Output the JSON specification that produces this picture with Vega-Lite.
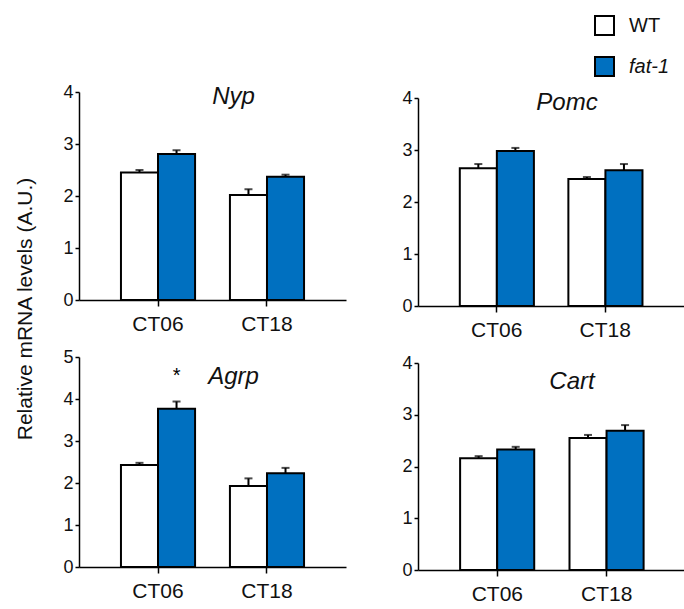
{
  "$schema": "https://vega.github.io/schema/vega-lite/v6.json",
  "background": "white",
  "padding": {"left": 14, "top": 15, "right": 0, "bottom": 5},
  "config": {
    "font": "Liberation Sans",
    "view": {"stroke": null},
    "axis": {"domainColor": "black", "domainWidth": 1.5, "tickColor": "black", "tickWidth": 1.5, "labelColor": "#111", "grid": false, "labelFont": "Liberation Sans", "titleFont": "Liberation Sans"},
    "title": {"font": "Liberation Sans", "fontSize": 24, "fontStyle": "italic", "fontWeight": "normal", "color": "#111", "frame": "group", "anchor": "middle", "baseline": "alphabetic"},
    "legend": {"symbolType": "square", "symbolSize": 361, "symbolStrokeColor": "black", "symbolStrokeWidth": 2, "symbolOpacity": 1, "labelFontSize": 20, "labelFont": "Liberation Sans", "labelColor": "#111", "rowPadding": 14, "labelOffset": 14, "padding": 0}
  },
  "datasets": {
    "expr": [
      {"gene": "Nyp", "time": "CT06", "genotype": "WT", "value": 2.45, "upper": 2.50},
      {"gene": "Nyp", "time": "CT06", "genotype": "fat-1", "value": 2.81, "upper": 2.88},
      {"gene": "Nyp", "time": "CT18", "genotype": "WT", "value": 2.02, "upper": 2.13},
      {"gene": "Nyp", "time": "CT18", "genotype": "fat-1", "value": 2.37, "upper": 2.41},
      {"gene": "Pomc", "time": "CT06", "genotype": "WT", "value": 2.65, "upper": 2.73},
      {"gene": "Pomc", "time": "CT06", "genotype": "fat-1", "value": 2.98, "upper": 3.04},
      {"gene": "Pomc", "time": "CT18", "genotype": "WT", "value": 2.44, "upper": 2.48},
      {"gene": "Pomc", "time": "CT18", "genotype": "fat-1", "value": 2.61, "upper": 2.73},
      {"gene": "Agrp", "time": "CT06", "genotype": "WT", "value": 2.43, "upper": 2.48},
      {"gene": "Agrp", "time": "CT06", "genotype": "fat-1", "value": 3.77, "upper": 3.94},
      {"gene": "Agrp", "time": "CT18", "genotype": "WT", "value": 1.93, "upper": 2.11},
      {"gene": "Agrp", "time": "CT18", "genotype": "fat-1", "value": 2.23, "upper": 2.36},
      {"gene": "Cart", "time": "CT06", "genotype": "WT", "value": 2.16, "upper": 2.20},
      {"gene": "Cart", "time": "CT06", "genotype": "fat-1", "value": 2.33, "upper": 2.38},
      {"gene": "Cart", "time": "CT18", "genotype": "WT", "value": 2.55, "upper": 2.61},
      {"gene": "Cart", "time": "CT18", "genotype": "fat-1", "value": 2.69, "upper": 2.80}
    ],
    "ann": [
      {"gene": "Agrp", "time": "CT06", "genotype": "fat-1", "y": 4.55, "label": "*"}
    ]
  },
  "spacing": 55,
  "hconcat": [
    {
      "spacing": 14,
      "title": {"text": "Relative mRNA  levels (A.U.)", "orient": "left", "anchor": "middle", "frame": "bounds", "fontSize": 21, "fontStyle": "normal", "baseline": "bottom", "offset": 6, "dx": 33},
      "vconcat": [
        {
          "width": 267, "height": 208,
          "title": {"text": "Nyp", "dx": 21, "offset": -26},
          "data": {"name": "expr"},
          "transform": [{"filter": "datum.gene === 'Nyp'"}],
          "encoding": {
            "x": {"field": "time", "type": "nominal", "title": null, "scale": {"paddingInner": 0.32, "paddingOuter": 0.385}, "axis": {"labelFontSize": 21, "labelAngle": 0, "tickSize": 6, "labelPadding": 7}},
            "xOffset": {"field": "genotype", "type": "nominal", "sort": ["WT", "fat-1"], "scale": {"paddingInner": 0, "paddingOuter": 0}}
          },
          "layer": [
            {"mark": {"type": "bar", "stroke": "black", "strokeWidth": 2},
             "encoding": {
               "y": {"field": "value", "type": "quantitative", "scale": {"domain": [0, 4]}, "axis": {"values": [0, 1, 2, 3, 4], "format": "d", "title": null, "labelFontSize": 18, "tickSize": 4, "labelPadding": 2}},
               "color": {"field": "genotype", "type": "nominal", "scale": {"domain": ["WT", "fat-1"], "range": ["white", "#0070C0"]}, "legend": {"title": null, "orient": "none", "legendX": 515, "legendY": -77, "encode": {"labels": {"update": {"fontStyle": {"signal": "datum.label === 'fat-1' ? 'italic' : 'normal'"}}}}}}
             }},
            {"mark": {"type": "rule", "strokeWidth": 2, "color": "black"},
             "encoding": {"y": {"field": "value", "type": "quantitative"}, "y2": {"field": "upper"}}},
            {"mark": {"type": "tick", "thickness": 2, "size": 8, "color": "black"},
             "encoding": {"y": {"field": "upper", "type": "quantitative"}}}
          ]
        },
        {
          "width": 267, "height": 210,
          "title": {"text": "Agrp", "dx": 21, "offset": -41},
          "data": {"name": "expr"},
          "transform": [{"filter": "datum.gene === 'Agrp'"}],
          "encoding": {
            "x": {"field": "time", "type": "nominal", "title": null, "scale": {"paddingInner": 0.32, "paddingOuter": 0.385}, "axis": {"labelFontSize": 21, "labelAngle": 0, "tickSize": 6, "labelPadding": 7}},
            "xOffset": {"field": "genotype", "type": "nominal", "sort": ["WT", "fat-1"], "scale": {"paddingInner": 0, "paddingOuter": 0}}
          },
          "layer": [
            {"mark": {"type": "bar", "stroke": "black", "strokeWidth": 2},
             "encoding": {
               "y": {"field": "value", "type": "quantitative", "scale": {"domain": [0, 5]}, "axis": {"values": [0, 1, 2, 3, 4, 5], "format": "d", "title": null, "labelFontSize": 18, "tickSize": 4, "labelPadding": 2}},
               "color": {"field": "genotype", "type": "nominal", "scale": {"domain": ["WT", "fat-1"], "range": ["white", "#0070C0"]}, "legend": {"title": null, "orient": "none", "legendX": 515, "legendY": -77, "encode": {"labels": {"update": {"fontStyle": {"signal": "datum.label === 'fat-1' ? 'italic' : 'normal'"}}}}}}
             }},
            {"mark": {"type": "rule", "strokeWidth": 2, "color": "black"},
             "encoding": {"y": {"field": "value", "type": "quantitative"}, "y2": {"field": "upper"}}},
            {"mark": {"type": "tick", "thickness": 2, "size": 8, "color": "black"},
             "encoding": {"y": {"field": "upper", "type": "quantitative"}}},
            {"data": {"name": "ann"},
             "mark": {"type": "text", "fontSize": 20, "color": "black", "baseline": "middle"},
             "encoding": {"y": {"field": "y", "type": "quantitative"}, "text": {"field": "label"}}}
          ]
        }
      ]
    },
    {
      "spacing": 14,
      "vconcat": [
        {
          "width": 266, "height": 214,
          "title": {"text": "Pomc", "dx": 16, "offset": -26},
          "data": {"name": "expr"},
          "transform": [{"filter": "datum.gene === 'Pomc'"}],
          "encoding": {
            "x": {"field": "time", "type": "nominal", "title": null, "scale": {"paddingInner": 0.32, "paddingOuter": 0.385}, "axis": {"labelFontSize": 21, "labelAngle": 0, "tickSize": 6, "labelPadding": 7}},
            "xOffset": {"field": "genotype", "type": "nominal", "sort": ["WT", "fat-1"], "scale": {"paddingInner": 0, "paddingOuter": 0}}
          },
          "layer": [
            {"mark": {"type": "bar", "stroke": "black", "strokeWidth": 2},
             "encoding": {
               "y": {"field": "value", "type": "quantitative", "scale": {"domain": [0, 4], "range": [214, 6]}, "axis": {"values": [0, 1, 2, 3, 4], "format": "d", "title": null, "labelFontSize": 18, "tickSize": 4, "labelPadding": 2}},
               "color": {"field": "genotype", "type": "nominal", "scale": {"domain": ["WT", "fat-1"], "range": ["white", "#0070C0"]}, "legend": {"title": null, "orient": "none", "legendX": 515, "legendY": -77, "encode": {"labels": {"update": {"fontStyle": {"signal": "datum.label === 'fat-1' ? 'italic' : 'normal'"}}}}}}
             }},
            {"mark": {"type": "rule", "strokeWidth": 2, "color": "black"},
             "encoding": {"y": {"field": "value", "type": "quantitative"}, "y2": {"field": "upper"}}},
            {"mark": {"type": "tick", "thickness": 2, "size": 8, "color": "black"},
             "encoding": {"y": {"field": "upper", "type": "quantitative"}}}
          ]
        },
        {
          "width": 268, "height": 207,
          "title": {"text": "Cart", "dx": 20, "offset": -40},
          "data": {"name": "expr"},
          "transform": [{"filter": "datum.gene === 'Cart'"}],
          "encoding": {
            "x": {"field": "time", "type": "nominal", "title": null, "scale": {"paddingInner": 0.32, "paddingOuter": 0.385}, "axis": {"labelFontSize": 21, "labelAngle": 0, "tickSize": 6, "labelPadding": 7}},
            "xOffset": {"field": "genotype", "type": "nominal", "sort": ["WT", "fat-1"], "scale": {"paddingInner": 0, "paddingOuter": 0}}
          },
          "layer": [
            {"mark": {"type": "bar", "stroke": "black", "strokeWidth": 2},
             "encoding": {
               "y": {"field": "value", "type": "quantitative", "scale": {"domain": [0, 4]}, "axis": {"values": [0, 1, 2, 3, 4], "format": "d", "title": null, "labelFontSize": 18, "tickSize": 4, "labelPadding": 2}},
               "color": {"field": "genotype", "type": "nominal", "scale": {"domain": ["WT", "fat-1"], "range": ["white", "#0070C0"]}, "legend": {"title": null, "orient": "none", "legendX": 515, "legendY": -77, "encode": {"labels": {"update": {"fontStyle": {"signal": "datum.label === 'fat-1' ? 'italic' : 'normal'"}}}}}}
             }},
            {"mark": {"type": "rule", "strokeWidth": 2, "color": "black"},
             "encoding": {"y": {"field": "value", "type": "quantitative"}, "y2": {"field": "upper"}}},
            {"mark": {"type": "tick", "thickness": 2, "size": 8, "color": "black"},
             "encoding": {"y": {"field": "upper", "type": "quantitative"}}}
          ]
        }
      ]
    }
  ]
}
